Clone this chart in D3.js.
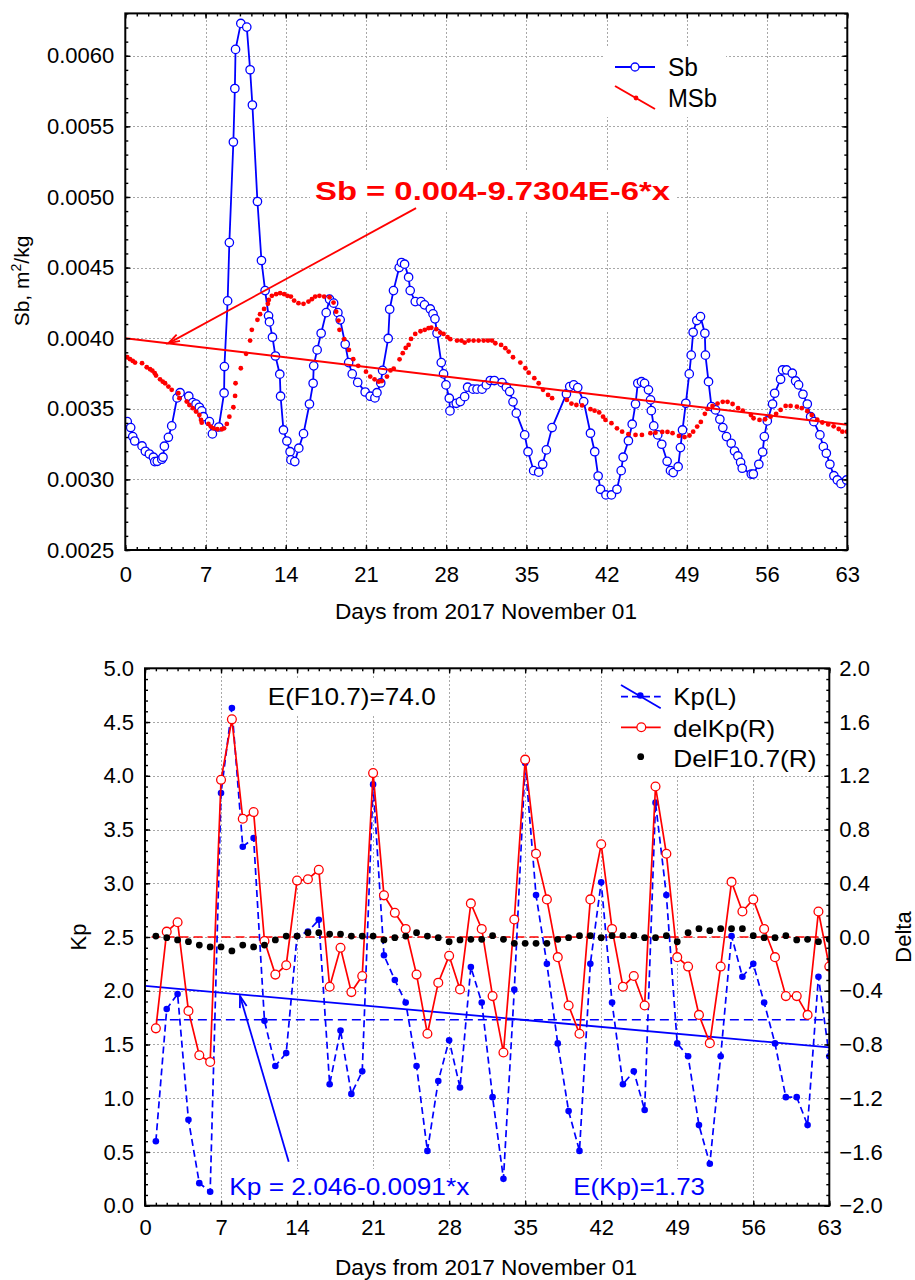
<!DOCTYPE html>
<html>
<head>
<meta charset="utf-8">
<script src="https://cdn.jsdelivr.net/npm/d3@7"></script>
<style>
  body { margin: 0; background: #fff; }
  svg { font-family: "Liberation Sans", Arial, sans-serif; }
</style>
</head>
<body>
<div id="chart"></div>
<script>
// ---------- top panel data: Sb and smoothed MSb ----------
var sbDays = [0.17,0.47,0.65,0.82,1.46,1.75,2.10,2.45,2.57,2.79,
  3.18,3.29,3.41,3.76,4.05,4.52,4.78,5.54,5.89,6.17,
  6.46,6.67,6.81,7.34,7.60,8.16,8.62,8.65,8.93,9.08,
  9.43,9.56,9.62,10.08,10.60,10.89,11.09,11.53,11.88,12.20,
  12.50,12.58,12.84,13.10,13.48,13.55,13.80,14.10,14.38,14.45,
  14.79,15.14,15.55,16.07,16.39,16.44,16.74,17.09,17.53,17.82,
  18.18,18.55,18.75,19.19,19.49,19.80,20.28,20.93,21.37,21.78,
  21.96,22.29,22.45,22.94,23.07,23.40,23.90,24.10,24.37,24.72,
  24.86,25.30,25.80,26.11,26.61,26.85,27.02,27.20,27.57,27.77,
  27.98,28.27,28.33,28.88,29.23,29.61,29.87,30.34,30.69,31.13,
  31.50,31.85,32.20,32.87,33.25,33.54,33.83,34.12,34.85,35.14,
  35.63,36.07,36.42,36.74,37.24,38.49,38.78,39.13,39.48,40.00,
  40.59,40.96,41.26,41.46,41.94,42.42,42.90,43.27,43.44,43.90,
  44.23,44.52,44.72,45.04,45.31,45.65,45.83,45.90,46.11,46.46,
  46.81,47.28,47.57,47.81,48.24,48.44,48.62,48.91,49.21,49.38,
  49.55,49.87,50.19,50.57,50.62,50.89,51.15,51.50,51.88,52.14,
  52.46,52.87,53.16,53.45,53.69,53.83,54.62,54.80,55.28,55.61,
  55.76,56.02,56.48,56.66,57.18,57.35,57.70,58.20,58.49,58.75,
  59.13,59.51,59.80,60.08,60.61,60.91,61.17,61.48,61.83,62.13,
  62.45,62.94];
var sbVals = [0.003409,0.003367,0.003303,0.003272,0.003237,0.003199,0.00318,0.003157,0.003126,0.003128,
  0.003143,0.003157,0.003235,0.003298,0.003379,0.003577,0.003614,0.003589,0.003544,0.003534,
  0.003511,0.003485,0.003444,0.003409,0.003322,0.003371,0.003612,0.003799,0.004264,0.004677,
  0.005389,0.005768,0.006045,0.006229,0.006203,0.005901,0.005651,0.004968,0.00455,0.004337,
  0.004158,0.004115,0.004007,0.003874,0.003745,0.003589,0.00335,0.003272,0.003196,0.003138,
  0.003126,0.003221,0.003324,0.003534,0.003681,0.003804,0.003917,0.004035,0.004181,0.004276,
  0.004248,0.004181,0.00413,0.003957,0.003827,0.003747,0.003687,0.003619,0.003589,0.003577,
  0.003614,0.003683,0.003772,0.003998,0.004205,0.004337,0.0045,0.004536,0.004524,0.004432,
  0.004337,0.004259,0.004259,0.004236,0.004207,0.004172,0.004137,0.004035,0.003827,0.003747,
  0.003669,0.003575,0.003485,0.003539,0.003551,0.003586,0.003653,0.003639,0.003639,0.003639,
  0.003669,0.0037,0.0037,0.003685,0.003653,0.003622,0.003549,0.003469,0.003315,0.003196,
  0.003062,0.003051,0.003107,0.003209,0.003367,0.003605,0.003657,0.003669,0.00365,0.003551,
  0.003327,0.003196,0.003024,0.00293,0.00289,0.00289,0.00293,0.003062,0.003157,0.003274,
  0.003391,0.003534,0.003681,0.003692,0.00368,0.003634,0.003563,0.003487,0.003379,0.003315,
  0.003249,0.003128,0.003062,0.003048,0.00309,0.003225,0.00335,0.003539,0.003747,0.00388,
  0.004042,0.004125,0.004153,0.004035,0.00388,0.003692,0.003515,0.003492,0.003426,0.003367,
  0.003303,0.003256,0.003201,0.003166,0.003121,0.003079,0.003038,0.003038,0.003107,0.003194,
  0.003303,0.003414,0.003534,0.00361,0.003709,0.003775,0.003775,0.003752,0.003697,0.003669,
  0.003603,0.003534,0.003444,0.003409,0.003315,0.003232,0.003185,0.003107,0.003026,0.002996,
  0.00297,0.002996];

var msbDays = [0.17,0.41,0.65,0.85,1.46,1.87,2.16,2.36,2.57,2.68,
  3.03,3.27,3.47,3.76,4.05,4.63,4.72,5.36,5.59,5.89,
  6.17,6.46,6.61,6.67,7.25,7.46,7.69,8.03,8.42,8.62,
  8.86,9.08,9.43,9.58,9.62,10.08,10.54,10.89,11.04,11.53,
  11.76,12.11,12.44,12.52,12.79,13.16,13.51,13.86,14.15,14.45,
  14.73,15.11,15.55,15.98,16.28,16.57,16.94,17.35,17.82,18.17,
  18.40,18.60,18.69,19.10,19.51,19.89,20.32,21.00,21.37,21.75,
  22.11,22.39,22.83,23.14,23.42,23.93,24.21,24.47,24.72,24.93,
  25.30,25.76,26.13,26.46,26.70,27.14,27.48,27.77,28.12,28.36,
  28.94,29.32,29.61,29.96,30.39,30.83,31.27,31.65,32.00,32.29,
  32.79,33.16,33.45,33.83,34.47,34.91,35.20,35.69,36.07,36.45,
  36.89,37.24,38.53,38.93,39.36,39.86,40.59,40.95,41.35,41.69,
  41.90,42.42,42.90,43.35,43.90,44.52,45.08,45.82,46.26,46.85,
  47.31,47.75,48.31,48.80,49.23,49.55,49.90,50.22,50.57,50.80,
  51.24,51.68,52.13,52.55,52.99,53.47,53.88,54.59,54.82,55.34,
  55.83,56.31,56.79,57.18,57.62,58.05,58.60,59.03,59.51,59.90,
  60.38,60.82,61.33,61.81,62.25,62.57,62.97];
var msbVals = [0.003865,0.003851,0.003839,0.003827,0.003823,0.003794,0.00378,0.00377,0.003752,0.003735,
  0.003709,0.003692,0.003681,0.003657,0.003634,0.00361,0.003575,0.003551,0.003527,0.003504,
  0.00348,0.003456,0.003421,0.003402,0.003393,0.003374,0.003362,0.003355,0.003355,0.003362,
  0.003393,0.003444,0.003511,0.003591,0.003681,0.003787,0.003889,0.003983,0.004059,0.00413,
  0.00417,0.004207,0.004243,0.004271,0.0043,0.004312,0.004319,0.004312,0.0043,0.004295,
  0.004266,0.004248,0.004243,0.004259,0.004276,0.004295,0.0043,0.004295,0.00429,0.004252,
  0.004188,0.004125,0.004059,0.003993,0.003917,0.003851,0.003804,0.003763,0.003728,0.003709,
  0.003692,0.003696,0.003728,0.003772,0.003784,0.00385,0.003894,0.003931,0.003952,0.003995,
  0.00403,0.004049,0.004059,0.004071,0.004074,0.004064,0.00404,0.00403,0.004007,0.003993,
  0.003983,0.003983,0.003969,0.003983,0.003983,0.003983,0.003983,0.003983,0.003983,0.003964,
  0.003952,0.003929,0.003905,0.003865,0.003827,0.003787,0.003756,0.003717,0.003681,0.003634,
  0.003598,0.003575,0.003563,0.003537,0.003527,0.003524,0.003497,0.003487,0.003474,0.003444,
  0.003421,0.003398,0.003362,0.003338,0.00332,0.003315,0.003315,0.003327,0.003331,0.003336,
  0.003336,0.003327,0.003308,0.0033,0.003311,0.003338,0.003374,0.003407,0.003464,0.003499,
  0.00352,0.003537,0.003549,0.003549,0.003534,0.003504,0.003487,0.003456,0.003433,0.003421,
  0.003426,0.003444,0.003464,0.003492,0.00352,0.00352,0.003515,0.003504,0.003483,0.003456,
  0.003423,0.003403,0.003389,0.003376,0.003357,0.003338,0.003338];

// linear fit printed on the chart: Sb = 0.004 - 9.7304E-6*x
var sbFit = {a: 0.004, b: -9.7304e-6, from: 0, to: 63};

// ---------- bottom panel data ----------
var kpDays = [1,2,3,4,5,6,7,8,9,10,11,12,13,14,15,16,17,18,19,20,21,
  22,23,24,25,26,27,28,29,30,31,32,33,34,35,36,37,38,39,40,41,42,
  43,44,45,46,47,48,49,50,51,52,53,54,55,56,57,58,59,60,61,62,63];
var kpVals = [0.60,1.83,1.97,0.80,0.21,0.13,3.84,4.63,3.34,3.42,
  1.72,1.30,1.42,2.51,2.55,2.66,1.13,1.63,1.04,1.25,
  3.92,2.33,2.10,1.89,1.30,0.51,1.16,1.54,1.10,2.22,
  1.89,1.01,0.25,2.01,4.12,2.89,2.25,1.51,0.88,0.51,
  2.25,3.01,1.89,1.13,1.25,0.89,3.75,2.89,1.51,1.39,
  0.75,0.39,1.39,2.51,2.13,2.25,1.89,1.51,1.01,1.01,
  0.75,2.13,1.39];
var delKpVals = [-0.68,0.04,0.11,-0.55,-0.88,-0.93,1.17,1.62,0.88,0.93,
  -0.03,-0.28,-0.21,0.42,0.43,0.50,-0.37,-0.08,-0.41,-0.29,
  1.22,0.31,0.18,0.06,-0.28,-0.72,-0.34,-0.14,-0.39,0.25,
  0.06,-0.44,-0.86,0.13,1.32,0.62,0.28,-0.15,-0.51,-0.72,
  0.28,0.69,0.06,-0.37,-0.29,-0.51,1.12,0.62,-0.15,-0.22,
  -0.58,-0.79,-0.22,0.41,0.19,0.28,0.06,-0.15,-0.44,-0.44,
  -0.58,0.19,-0.22];
var delF107Vals = [0.007,-0.005,-0.022,-0.035,-0.06,-0.074,-0.074,-0.104,-0.06,-0.074,
  -0.06,-0.022,0.007,0.007,0.032,0.032,0.022,0.022,0.007,0.007,
  0.007,-0.022,-0.005,0.007,0.032,0.007,-0.005,-0.035,-0.022,-0.017,
  -0.017,0.01,-0.017,-0.047,-0.047,-0.047,-0.047,-0.017,-0.005,0.01,
  0.01,-0.005,0.01,0.01,0.01,-0.005,-0.005,0.01,-0.035,0.032,
  0.062,0.047,0.062,0.062,0.062,0.01,-0.005,-0.005,0.01,-0.022,
  -0.017,-0.035,-0.017];

var kpFit = {a: 2.046, b: -0.0091, from: 0, to: 63};
var kpMean = {value: 1.73, from: 1, to: 63};
var delZero = {value: 0.0, from: 0.6, to: 63};

// ticks
var dayTicks = [0,7,14,21,28,35,42,49,56,63];
var sbTicks = [0.0025,0.0030,0.0035,0.0040,0.0045,0.0050,0.0055,0.0060];
var kpTicks = [0,0.5,1,1.5,2,2.5,3,3.5,4,4.5,5];
var deltaTicks = [-2,-1.6,-1.2,-0.8,-0.4,0,0.4,0.8,1.2,1.6,2];

var BLUE = "#0000ff", RED = "#ff0000", GRID = "#a8a8a8";

var svg = d3.select("#chart").append("svg")
  .attr("width", 915)
  .attr("height", 1280);

// ---------- helpers ----------
function grid(g, xs, ys, xv, yv) {
  var xr = xs.range(), yr = ys.range();
  g.selectAll(null).data(xv).enter().append("line")
    .attr("x1", function(d) { return Math.round(xs(d)) + 0.5; })
    .attr("x2", function(d) { return Math.round(xs(d)) + 0.5; })
    .attr("y1", yr[0]).attr("y2", yr[1])
    .attr("stroke", GRID).attr("stroke-width", 1).attr("stroke-dasharray", "2,2")
    .attr("shape-rendering", "crispEdges");
  g.selectAll(null).data(yv).enter().append("line")
    .attr("y1", function(d) { return Math.round(ys(d)) + 0.5; })
    .attr("y2", function(d) { return Math.round(ys(d)) + 0.5; })
    .attr("x1", xr[0]).attr("x2", xr[1])
    .attr("stroke", GRID).attr("stroke-width", 1).attr("stroke-dasharray", "2,2")
    .attr("shape-rendering", "crispEdges");
}

function axis(g, ax, tr, size) {
  var a = g.append("g").attr("transform", tr).call(ax);
  a.attr("font-family", null).attr("font-size", null);
  a.select(".domain").remove();
  a.selectAll(".tick line").attr("stroke", "#000").attr("stroke-width", 1.4);
  a.selectAll(".tick text").attr("fill", "#000").attr("font-size", size || 22);
  return a;
}

function label(g, str, x, y, size, len, color, weight) {
  var t = g.append("text").attr("x", x).attr("y", y)
    .attr("font-size", size).attr("fill", color || "#000")
    .attr("font-weight", weight || "normal").text(str);
  if (len) t.attr("textLength", len).attr("lengthAdjust", "spacingAndGlyphs");
  return t;
}

function whiteBox(layer, t, pad) {
  var b = t.node().getBBox();
  layer.append("rect").attr("x", b.x - pad).attr("y", b.y - pad)
    .attr("width", b.width + 2 * pad).attr("height", b.height + 2 * pad)
    .attr("fill", "#fff");
}

function arrow(g, x0, y0, x1, y1, color) {
  g.append("line").attr("x1", x0).attr("y1", y0).attr("x2", x1).attr("y2", y1)
    .attr("stroke", color).attr("stroke-width", 1.8);
  var ang = Math.atan2(y0 - y1, x0 - x1), L = 12, w = 0.3;
  var p = [[x1 + L * Math.cos(ang + w), y1 + L * Math.sin(ang + w)], [x1, y1],
           [x1 + L * Math.cos(ang - w), y1 + L * Math.sin(ang - w)]];
  g.append("path").attr("d", d3.line()(p)).attr("fill", "none")
    .attr("stroke", color).attr("stroke-width", 1.8);
}

// =================== TOP PANEL ===================
var x1 = d3.scaleLinear().domain([0, 63]).range([125.3, 847.3]);
var y1 = d3.scaleLinear().domain([0.0025, 0.0063]).range([550, 13.4]);

var tGrid = svg.append("g"), tBox = svg.append("g"), tData = svg.append("g"),
    tAxes = svg.append("g"), tText = svg.append("g");

svg.append("clipPath").attr("id", "clipTop").append("rect")
  .attr("x", 125.3).attr("y", 13.4).attr("width", 722).attr("height", 536.6);
tData.attr("clip-path", "url(#clipTop)");

grid(tGrid, x1, y1, dayTicks.slice(1, -1), sbTicks.slice(1));

var sbData = sbDays.map(function(d, i) { return {x: d, y: sbVals[i]}; });
var msbData = msbDays.map(function(d, i) { return {x: d, y: msbVals[i]}; });

tData.append("path").datum(sbData)
  .attr("d", d3.line().x(function(d) { return x1(d.x); }).y(function(d) { return y1(d.y); }))
  .attr("fill", "none").attr("stroke", BLUE).attr("stroke-width", 1.8);
tData.selectAll(".sb").data(sbData).enter().append("circle")
  .attr("cx", function(d) { return x1(d.x); }).attr("cy", function(d) { return y1(d.y); })
  .attr("r", 4.2).attr("fill", "#fff").attr("stroke", BLUE).attr("stroke-width", 1.3);
tData.selectAll(".msb").data(msbData).enter().append("circle")
  .attr("cx", function(d) { return x1(d.x); }).attr("cy", function(d) { return y1(d.y); })
  .attr("r", 2.4).attr("fill", RED);
tData.append("line")
  .attr("x1", x1(sbFit.from)).attr("y1", y1(sbFit.a + sbFit.b * sbFit.from))
  .attr("x2", x1(sbFit.to)).attr("y2", y1(sbFit.a + sbFit.b * sbFit.to))
  .attr("stroke", RED).attr("stroke-width", 2);

// frame and ticks
tAxes.append("rect").attr("x", 125.3).attr("y", 13.4).attr("width", 722).attr("height", 536.6)
  .attr("fill", "none").attr("stroke", "#000").attr("stroke-width", 2);
var dayMinor = d3.range(0, 64);
var sbMinor = d3.range(25, 64).map(function(i) { return i / 10000; });
axis(tAxes, d3.axisBottom(x1).tickValues(dayTicks).tickSize(-5).tickSizeOuter(0).tickPadding(16).tickFormat(d3.format("d")), "translate(0,550)");
axis(tAxes, d3.axisBottom(x1).tickValues(dayMinor).tickSize(-3).tickSizeOuter(0).tickFormat(""), "translate(0,550)");
axis(tAxes, d3.axisTop(x1).tickValues(dayTicks).tickSize(-5).tickSizeOuter(0).tickFormat(""), "translate(0,13.4)");
axis(tAxes, d3.axisTop(x1).tickValues(dayMinor).tickSize(-3).tickSizeOuter(0).tickFormat(""), "translate(0,13.4)");
axis(tAxes, d3.axisLeft(y1).tickValues(sbTicks).tickSize(-5).tickSizeOuter(0).tickPadding(11).tickFormat(d3.format(".4f")), "translate(125.3,0)");
axis(tAxes, d3.axisLeft(y1).tickValues(sbMinor).tickSize(-3).tickSizeOuter(0).tickFormat(""), "translate(125.3,0)");
axis(tAxes, d3.axisRight(y1).tickValues(sbTicks).tickSize(-5).tickSizeOuter(0).tickFormat(""), "translate(847.3,0)");
axis(tAxes, d3.axisRight(y1).tickValues(sbMinor).tickSize(-3).tickSizeOuter(0).tickFormat(""), "translate(847.3,0)");

// axis titles
label(tText, "Days from 2017 November 01", 486, 619, 22, 302).attr("text-anchor", "middle");
var yt = tText.append("text").attr("transform", "translate(29,281) rotate(-90)")
  .attr("text-anchor", "middle").attr("font-size", 21);
yt.append("tspan").text("Sb, m");
yt.append("tspan").attr("font-size", 14).attr("dy", -8).text("2");
yt.append("tspan").attr("dy", 8).text("/kg");

// equation annotation
var eqTop = label(tText, "Sb = 0.004-9.7304E-6*x", 315, 200, 26, 355, RED, "bold");
whiteBox(tBox, eqTop, 5);
arrow(tText, x1(25.37), y1(0.004921), x1(3.75), y1(sbFit.a + sbFit.b * 3.75), RED);

// legend
tBox.append("rect").attr("x", 605).attr("y", 48).attr("width", 121).attr("height", 69).attr("fill", "#fff");
tText.append("line").attr("x1", 615).attr("x2", 655).attr("y1", 67).attr("y2", 67)
  .attr("stroke", BLUE).attr("stroke-width", 1.8);
tText.append("circle").attr("cx", 635).attr("cy", 67).attr("r", 4).attr("fill", "#fff")
  .attr("stroke", BLUE).attr("stroke-width", 1.3);
label(tText, "Sb", 668, 76, 25, 30);
tText.append("line").attr("x1", 615).attr("x2", 655).attr("y1", 86).attr("y2", 109)
  .attr("stroke", RED).attr("stroke-width", 2);
tText.append("circle").attr("cx", 636).attr("cy", 98).attr("r", 2.4).attr("fill", RED);
label(tText, "MSb", 668, 107, 25, 49);

// =================== BOTTOM PANEL ===================
var x2 = d3.scaleLinear().domain([0, 63]).range([145, 829.3]);
var yL = d3.scaleLinear().domain([0, 5]).range([1205.7, 668.3]);
var yR = d3.scaleLinear().domain([-2, 2]).range([1205.7, 668.3]);

var bGrid = svg.append("g"), bBox = svg.append("g"), bData = svg.append("g"),
    bAxes = svg.append("g"), bText = svg.append("g");

svg.append("clipPath").attr("id", "clipBot").append("rect")
  .attr("x", 145).attr("y", 668.3).attr("width", 684.3).attr("height", 537.4);
bData.attr("clip-path", "url(#clipBot)");

grid(bGrid, x2, yL, dayTicks.slice(1, -1), kpTicks.slice(1, -1));

var kpData = kpDays.map(function(d, i) { return {x: d, kp: kpVals[i], dk: delKpVals[i], df: delF107Vals[i]}; });

// reference lines
bData.append("line")
  .attr("x1", x2(kpFit.from)).attr("y1", yL(kpFit.a + kpFit.b * kpFit.from))
  .attr("x2", x2(kpFit.to)).attr("y2", yL(kpFit.a + kpFit.b * kpFit.to))
  .attr("stroke", BLUE).attr("stroke-width", 1.8);
bData.append("line")
  .attr("x1", x2(kpMean.from)).attr("x2", x2(kpMean.to))
  .attr("y1", yL(kpMean.value)).attr("y2", yL(kpMean.value))
  .attr("stroke", BLUE).attr("stroke-width", 1.6).attr("stroke-dasharray", "9,5");
bData.append("line")
  .attr("x1", x2(delZero.from)).attr("x2", x2(delZero.to))
  .attr("y1", yR(delZero.value)).attr("y2", yR(delZero.value))
  .attr("stroke", RED).attr("stroke-width", 1.6).attr("stroke-dasharray", "9,5");

// Kp (left axis)
bData.append("path").datum(kpData)
  .attr("d", d3.line().x(function(d) { return x2(d.x); }).y(function(d) { return yL(d.kp); }))
  .attr("fill", "none").attr("stroke", BLUE).attr("stroke-width", 1.7).attr("stroke-dasharray", "7,4");
bData.selectAll(".kp").data(kpData).enter().append("circle")
  .attr("cx", function(d) { return x2(d.x); }).attr("cy", function(d) { return yL(d.kp); })
  .attr("r", 3.3).attr("fill", BLUE);

// delKp (right axis)
bData.append("path").datum(kpData)
  .attr("d", d3.line().x(function(d) { return x2(d.x); }).y(function(d) { return yR(d.dk); }))
  .attr("fill", "none").attr("stroke", RED).attr("stroke-width", 1.7);
bData.selectAll(".dk").data(kpData).enter().append("circle")
  .attr("cx", function(d) { return x2(d.x); }).attr("cy", function(d) { return yR(d.dk); })
  .attr("r", 4.4).attr("fill", "#fff").attr("stroke", RED).attr("stroke-width", 1.3);

// DelF10.7 (right axis)
bData.selectAll(".df").data(kpData).enter().append("circle")
  .attr("cx", function(d) { return x2(d.x); }).attr("cy", function(d) { return yR(d.df); })
  .attr("r", 3.4).attr("fill", "#000");

// frame and ticks
bAxes.append("rect").attr("x", 145).attr("y", 668.3).attr("width", 684.3).attr("height", 537.4)
  .attr("fill", "none").attr("stroke", "#000").attr("stroke-width", 2);
var kpMinor = d3.range(0, 51).map(function(i) { return i / 10; });
var deltaMinor = d3.range(-25, 26).map(function(i) { return i * 0.08; });
axis(bAxes, d3.axisBottom(x2).tickValues(dayTicks).tickSize(-5).tickSizeOuter(0).tickPadding(14).tickFormat(d3.format("d")), "translate(0,1205.7)");
axis(bAxes, d3.axisBottom(x2).tickValues(dayMinor).tickSize(-3).tickSizeOuter(0).tickFormat(""), "translate(0,1205.7)");
axis(bAxes, d3.axisTop(x2).tickValues(dayTicks).tickSize(-5).tickSizeOuter(0).tickFormat(""), "translate(0,668.3)");
axis(bAxes, d3.axisTop(x2).tickValues(dayMinor).tickSize(-3).tickSizeOuter(0).tickFormat(""), "translate(0,668.3)");
axis(bAxes, d3.axisLeft(yL).tickValues(kpTicks).tickSize(-5).tickSizeOuter(0).tickPadding(11).tickFormat(d3.format(".1f")), "translate(145,0)");
axis(bAxes, d3.axisLeft(yL).tickValues(kpMinor).tickSize(-3).tickSizeOuter(0).tickFormat(""), "translate(145,0)");
axis(bAxes, d3.axisRight(yR).tickValues(deltaTicks).tickSize(-5).tickSizeOuter(0).tickPadding(10).tickFormat(d3.format(".1f")), "translate(829.3,0)");
axis(bAxes, d3.axisRight(yR).tickValues(deltaMinor).tickSize(-3).tickSizeOuter(0).tickFormat(""), "translate(829.3,0)");

// axis titles
label(bText, "Days from 2017 November 01", 486, 1275, 22, 302).attr("text-anchor", "middle");
bText.append("text").attr("transform", "translate(86,937) rotate(-90)")
  .attr("text-anchor", "middle").attr("font-size", 22).text("Kp");
bText.append("text").attr("transform", "translate(911,937) rotate(-90)")
  .attr("text-anchor", "middle").attr("font-size", 22).text("Delta");

// annotations
var ef = label(bText, "E(F10.7)=74.0", 267.7, 705, 24, 168);
whiteBox(bBox, ef, 4);
var kpEq = label(bText, "Kp = 2.046-0.0091*x", 229.3, 1195, 24, 240, BLUE);
whiteBox(bBox, kpEq, 4);
var ekp = label(bText, "E(Kp)=1.73", 573.3, 1195, 24, 131.7, BLUE);
whiteBox(bBox, ekp, 4);
arrow(bText, x2(13.23), yL(0.409), x2(8.75), yL(1.95), BLUE);

// legend
bBox.append("rect").attr("x", 610).attr("y", 669).attr("width", 219).attr("height", 106).attr("fill", "#fff");
bText.append("line").attr("x1", 621).attr("y1", 685).attr("x2", 660.7).attr("y2", 708.3)
  .attr("stroke", BLUE).attr("stroke-width", 1.8);
bText.append("line").attr("x1", 621).attr("y1", 696.7).attr("x2", 660.7).attr("y2", 696.7)
  .attr("stroke", BLUE).attr("stroke-width", 1.7).attr("stroke-dasharray", "7,4");
bText.append("circle").attr("cx", 640.3).attr("cy", 695.5).attr("r", 3.3).attr("fill", BLUE);
label(bText, "Kp(L)", 673.3, 705, 24, 63.3);
bText.append("line").attr("x1", 621).attr("y1", 727.3).attr("x2", 660.7).attr("y2", 727.3)
  .attr("stroke", RED).attr("stroke-width", 1.7);
bText.append("circle").attr("cx", 641.3).attr("cy", 727.3).attr("r", 4.4).attr("fill", "#fff")
  .attr("stroke", RED).attr("stroke-width", 1.3);
label(bText, "delKp(R)", 673.3, 736.7, 24, 101.7);
bText.append("circle").attr("cx", 640.7).attr("cy", 756.7).attr("r", 3.4).attr("fill", "#000");
label(bText, "DelF10.7(R)", 673.3, 766.7, 24, 143.3);
</script>
</body>
</html>
